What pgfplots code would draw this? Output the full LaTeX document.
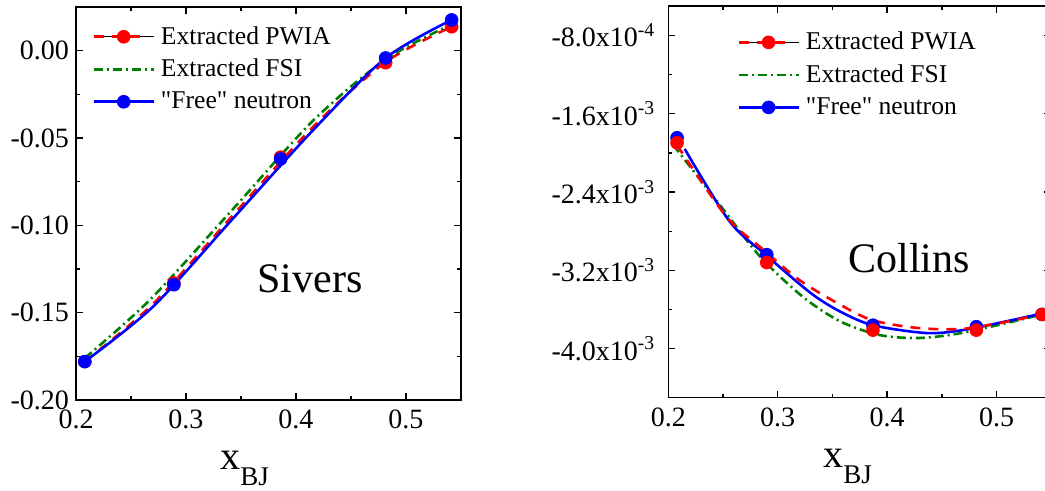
\documentclass[border=0pt]{standalone}
\usepackage{fontspec}
\setmainfont{Liberation Serif}[Ligatures=TeXOff]
\usepackage{pgfplots}
\pgfplotsset{compat=1.18}

\definecolor{ored}{RGB}{255,0,0}
\definecolor{ogreen}{RGB}{0,128,0}
\definecolor{oblue}{RGB}{0,0,255}

\newcommand{\tl}{\fontsize{14}{16}\selectfont}

\pgfplotsset{
  panel/.style={
    scale only axis, clip=false,
    /pgf/number format/assume math mode=true,
    tick pos=both, tick align=inside,
    axis line style={line width=0.7pt},
    every tick/.style={black, line width=0.7pt},
    major tick length=3.5pt, minor tick length=2pt,
    minor x tick num=1, minor y tick num=1,
    scaled y ticks=false,
    every tick label/.append style={font=\tl},
    xticklabel style={yshift=-1.5pt},
    xtick={0.2,0.3,0.4,0.5}, xticklabels={0.2,0.3,0.4,0.5},
    xmin=0.2, xmax=0.55,
    legend cell align=left,
    legend style={draw=none, fill=none, inner sep=0pt, row sep=6pt,
      column sep=3pt, anchor=north west,
      font=\fontsize{12.8}{15}\selectfont, nodes={inner sep=0pt}},
  },
  lR/.style={ored, line width=1.3pt, dash pattern=on 5pt off 4pt, smooth},
  lG/.style={ogreen, line width=1.3pt, dash pattern=on 4.5pt off 2pt on 1pt off 2pt, smooth},
  lB/.style={oblue, line width=1.3pt, smooth},
  mR/.style={only marks, mark=*, mark size=3.2pt, ored, mark options={draw=ored, fill=ored}},
  mB/.style={only marks, mark=*, mark size=3.2pt, oblue, mark options={draw=oblue, fill=oblue}},
}

\newcommand{\legPWIA}{\addlegendimage{legend image code/.code={%
  \path (0pt,0pt) -- (30pt,0pt);
  \draw[ored, line width=1.3pt, dash pattern=on 5pt off 4pt] (0pt,0pt) -- (25pt,0pt);
  \fill[ored] (15pt,0pt) circle (3.2pt);}}}
\newcommand{\legFSI}{\addlegendimage{legend image code/.code={%
  \draw[ogreen, line width=1.3pt, dash pattern=on 4.5pt off 2pt on 1pt off 2pt] (0pt,0pt) -- (30pt,0pt);}}}
\newcommand{\legFree}{\addlegendimage{legend image code/.code={%
  \draw[oblue, line width=1.3pt] (0pt,0pt) -- (30pt,0pt);
  \fill[oblue] (15pt,0pt) circle (3.2pt);}}}
\newcommand{\xbj}{{\fontsize{20}{20}\selectfont x}{\fontsize{13.5}{13.5}\selectfont\raisebox{-8pt}{BJ}}}
\newcommand{\sci}[2]{#1x10\textsuperscript{#2}}

\begin{document}
\begin{tikzpicture}
\useasboundingbox (0,0) rectangle (522.5pt,245.5pt);
\clip (0,0) rectangle (522.5pt,245.5pt);

% Sivers
\begin{axis}[panel, at={(38pt,45.5pt)}, anchor=south west,
  width=192.5pt, height=196.5pt,
  ymin=-0.2, ymax=0.025,
  ytick={-0.2,-0.15,-0.1,-0.05,0},
  yticklabels={-0.20,-0.15,-0.10,-0.05,0.00},
  legend style={at={(axis description cs:0,1)}, xshift=8pt, yshift=-9.5pt}]
\addplot[lR, forget plot] coordinates {(0.208,-0.178) (0.270,-0.145) (0.343,-0.094) (0.4157,-0.0435) (0.4815,-0.0065) (0.5415,0.0137)};
\addplot[lG, forget plot] coordinates {(0.208,-0.176) (0.2673,-0.1426) (0.343,-0.0905) (0.4157,-0.040) (0.4815,-0.005) (0.5415,0.015)};
\addplot[lB, forget plot] coordinates {(0.208,-0.178) (0.2703,-0.1464) (0.343,-0.0959) (0.4157,-0.0454) (0.4815,-0.0042) (0.5415,0.0176)};
\addplot[mR, forget plot] coordinates {(0.208,-0.178) (0.289,-0.133) (0.386,-0.061) (0.4815,-0.0069) (0.5415,0.0137)};
\addplot[mB, forget plot] coordinates {(0.208,-0.178) (0.289,-0.134) (0.386,-0.062) (0.4815,-0.0042) (0.5415,0.0176)};
\legPWIA \addlegendentry{Extracted PWIA}
\legFSI \addlegendentry{Extracted FSI}
\legFree \addlegendentry{"Free" neutron}
\node[anchor=base west, inner sep=0pt, font=\fontsize{21}{21}\selectfont] at (rel axis cs:0,0) [xshift=90.5pt, yshift=53.5pt] {Sivers};
\node[anchor=base west, inner sep=0pt] at (rel axis cs:0,0) [xshift=72pt, yshift=-35pt] {\xbj};
\end{axis}

% Collins
\begin{axis}[panel, at={(334.15pt,46.65pt)}, anchor=south west,
  width=191.5pt, height=195.85pt,
  ymin=-0.0045, ymax=-0.0005,
  ytick={-0.004,-0.0032,-0.0024,-0.0016,-0.0008},
  yticklabels={\sci{-4.0}{-3},\sci{-3.2}{-3},\sci{-2.4}{-3},\sci{-1.6}{-3},\sci{-8.0}{-4}},
  yticklabel style={xshift=-3pt},
  legend style={at={(axis description cs:0,1)}, xshift=34.3pt, yshift=-12.8pt}]
\addplot[lG, forget plot] coordinates {(0.2046,-0.00192) (0.247,-0.00253) (0.284,-0.00306) (0.323,-0.00347) (0.357,-0.00372) (0.393,-0.00386) (0.430,-0.00389) (0.4725,-0.00383) (0.5415,-0.00365)};
\addplot[lB, forget plot] coordinates {(0.215,-0.00196) (0.256,-0.00270) (0.290,-0.00305) (0.330,-0.00343) (0.357,-0.00362) (0.387,-0.00376) (0.436,-0.00384) (0.469,-0.00381) (0.509,-0.00372) (0.5415,-0.00364)};
\addplot[lR, forget plot] coordinates {(0.208,-0.00192) (0.253,-0.00265) (0.287,-0.00299) (0.320,-0.00330) (0.357,-0.00355) (0.387,-0.00371) (0.430,-0.00379) (0.4755,-0.00379) (0.5415,-0.00365)};
\addplot[mB, forget plot] coordinates {(0.208,-0.001846) (0.29,-0.00304) (0.387,-0.00376) (0.4815,-0.003775) (0.5415,-0.00365)};
\addplot[mR, forget plot] coordinates {(0.208,-0.001897) (0.29,-0.00312) (0.387,-0.00381) (0.4815,-0.00381) (0.5415,-0.00365)};
\legPWIA \addlegendentry{Extracted PWIA}
\legFSI \addlegendentry{Extracted FSI}
\legFree \addlegendentry{"Free" neutron}
\node[anchor=base west, inner sep=0pt, font=\fontsize{21}{21}\selectfont] at (rel axis cs:0,0) [xshift=89.85pt, yshift=62.35pt] {Collins};
\node[anchor=base west, inner sep=0pt] at (rel axis cs:0,0) [xshift=77.3pt, yshift=-35pt] {\xbj};
\end{axis}
\end{tikzpicture}
\end{document}
